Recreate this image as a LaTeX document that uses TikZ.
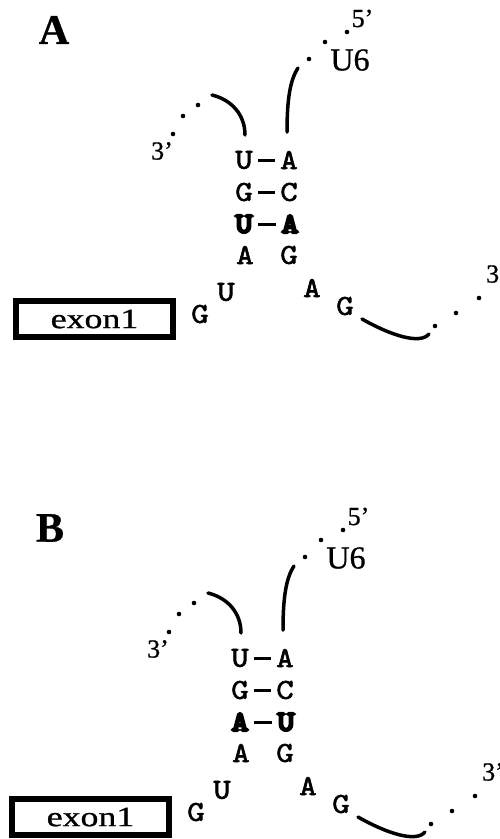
\documentclass[tikz,border=0pt]{standalone}
\usepackage{fontspec}
\setmainfont{Liberation Serif}[FakeBold=0.8]
\newfontfamily\nucfont{lmmono10-regular.otf}[FakeBold=2, FakeStretch=1.15]
\newfontfamily\nucheavyfont{lmmonolt10-bold.otf}[FakeBold=7, FakeStretch=1.15]

\tikzset{
  panellabel/.style={font={\fontsize{42bp}{44bp}\selectfont\bfseries}, inner sep=0pt},
  strandlabel/.style={font={\fontsize{32bp}{34bp}\selectfont}, inner sep=0pt},
  endlabel/.style={font={\fontsize{26bp}{28bp}\selectfont}, inner sep=0pt},
  nuc/.style={font={\fontsize{29bp}{30bp}\nucfont}, inner sep=0pt, minimum width=17bp},
  nucheavy/.style={font={\fontsize{29bp}{30bp}\nucheavyfont}, inner sep=0pt, minimum width=17bp},
  bond/.style={line width=3bp, shorten <=5.5bp, shorten >=5.5bp},
  strand/.style={line width=3.5bp, line cap=round},
  dotmark/.style={circle, fill, inner sep=0pt, minimum size=4.6bp},
  exonbox/.style={draw, line width=5.5bp, minimum width=157bp, minimum height=36bp,
    inner sep=0pt, font={\fontsize{28bp}{30bp}\selectfont}},
}

% One panel: #1 name prefix, #2 shift, #3 panel letter,
% #4 and #5 the two bases of the exchanged pair
\newcommand\splicepanel[5]{%
\begin{scope}[shift={#2}]
  \node[panellabel] (#1label) at (54,30) {#3};
  % U6 strand
  \node[endlabel] (#1five) at (362.5,18.5) {5'};
  \node[strandlabel] (#1u6) at (350,60) {U6};
  \node[dotmark] (#1ud1) at (347,32) {};
  \node[dotmark] (#1ud2) at (325,42) {};
  \node[dotmark] (#1ud3) at (309,59) {};
  \coordinate (#1ra) at (298,68);
  \coordinate (#1rb) at (287,132);
  \draw[strand] (#1ra) .. controls +(-8,12) and +(0,-32) .. (#1rb);
  % 3' arm of U6
  \node[endlabel] (#1three) at (162,151) {3'};
  \node[dotmark] (#1ld1) at (173,134) {};
  \node[dotmark] (#1ld2) at (183,116) {};
  \node[dotmark] (#1ld3) at (198,105) {};
  \coordinate (#1la) at (212,95);
  \coordinate (#1lb) at (245,135);
  \draw[strand] (#1la) .. controls +(20,5) and +(0,-20) .. (#1lb);
  % helix
  \node[nuc] (#1p1l) at (244,160) {U};
  \node[nuc] (#1p1r) at (289,160) {A};
  \node[nuc] (#1p2l) at (244,192) {G};
  \node[nuc] (#1p2r) at (289,192) {C};
  \node[nucheavy] (#1p3l) at (244,224) {#4};
  \node[nucheavy] (#1p3r) at (290,224) {#5};
  \node[nuc] (#1p4l) at (245,255) {A};
  \node[nuc] (#1p4r) at (289,255) {G};
  \draw[bond] (#1p1l) -- (#1p1r);
  \draw[bond] (#1p2l) -- (#1p2r);
  \draw[bond] (#1p3l) -- (#1p3r);
  % intron
  \node[exonbox] (#1exon) at (94.5,319) {\scalebox{1.28}[1]{exon1}};
  \node[nuc] (#1g1) at (200,314) {G};
  \node[nuc] (#1u2) at (226,292) {U};
  \node[nuc] (#1a5) at (312,288) {A};
  \node[nuc] (#1g6) at (345,306) {G};
  \coordinate (#1ta) at (362,319);
  \coordinate (#1tb) at (429,334);
  \draw[strand] (#1ta) .. controls +(28,16) and +(-9,11) .. (#1tb);
  \node[dotmark] (#1td1) at (435,326) {};
  \node[dotmark] (#1td2) at (456,313) {};
  \node[dotmark] (#1td3) at (479,298) {};
  \node[endlabel, anchor=west] (#1tail) at (486,274) {3'};
\end{scope}}

\begin{document}
\begin{tikzpicture}[x=1bp, y=-1bp]
  \useasboundingbox (0,0) rectangle (500,839);
  \fill[white] (0,0) rectangle (500,839);
  \clip (0,0) rectangle (500,839);
  \splicepanel{a}{(0,0)}{A}{U}{A}
  \splicepanel{b}{(-4,498)}{B}{A}{U}
\end{tikzpicture}
\end{document}
